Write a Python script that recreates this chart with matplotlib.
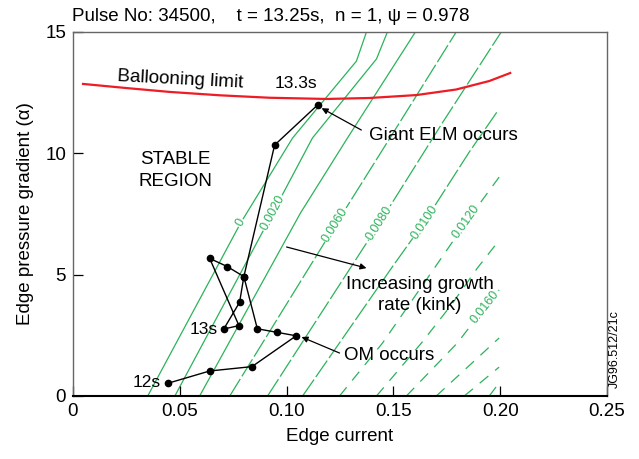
import math

import matplotlib
matplotlib.use("Agg")
import matplotlib.pyplot as plt

plt.rcParams["font.family"] = ["Liberation Sans", "DejaVu Sans"]

GREEN = "#2bb35a"
RED = "#ee1c25"

# Edge trajectory, 12 s -> 13.3 s
EDGE_CURRENT = [0.0443, 0.0640, 0.0838, 0.1045, 0.0957, 0.0863, 0.0800, 0.0723,
                0.0640, 0.0777, 0.0706, 0.0780, 0.0800, 0.0944, 0.1145]
PRESSURE_GRAD = [0.52, 1.03, 1.21, 2.48, 2.62, 2.77, 4.92, 5.33,
                 5.67, 2.90, 2.76, 3.86, 4.92, 10.34, 11.99]

# Ballooning limit
BALLOON_X = [0.0047, 0.0250, 0.0453, 0.0690, 0.0921, 0.1187, 0.1388, 0.1607,
             0.1794, 0.1949, 0.2047]
BALLOON_Y = [12.86, 12.69, 12.53, 12.39, 12.29, 12.24, 12.28, 12.40,
             12.63, 12.98, 13.31]

# Kink growth-rate contours
GROWTH_LEVELS = [0.000, 0.002, 0.004, 0.006, 0.008, 0.010,
                 0.012, 0.014, 0.016, 0.018, 0.020, 0.022]
CONTOUR_X = [
    [0.0350, 0.0785, 0.1028, 0.1327, 0.1374],
    [0.0477, 0.0935, 0.1121, 0.1421, 0.1472],
    [0.0593, 0.1065, 0.1285, 0.1603],
    [0.0734, 0.1229, 0.1528, 0.1794],
    [0.0911, 0.1435, 0.1729, 0.2005],
    [0.1075, 0.1491, 0.1645, 0.1855, 0.1991],
    [0.1248, 0.1449, 0.1692, 0.1841, 0.1995],
    [0.1421, 0.1631, 0.1771, 0.1893, 0.2000],
    [0.1561, 0.1799, 0.1930, 0.1995],
    [0.1701, 0.1995],
    [0.1832, 0.1995],
    [0.1949, 0.1995],
]
CONTOUR_Y = [
    [0.0, 7.13, 10.63, 13.80, 15.0],
    [0.0, 7.54, 10.63, 13.89, 15.0],
    [0.0, 7.54, 10.63, 15.0],
    [0.0, 7.05, 11.25, 15.0],
    [0.0, 7.13, 11.25, 15.0],
    [0.0, 5.27, 7.17, 10.05, 11.78],
    [0.0, 2.18, 5.27, 7.17, 9.02],
    [0.0, 2.18, 3.75, 5.27, 6.47],
    [0.0, 2.18, 3.67, 4.37],
    [0.0, 2.39],
    [0.0, 1.19],
    [0.0, 0.54],
]
# vertex on each contour that carries its label (None = unlabelled)
LABEL_AT = [1, 1, None, 1, 1, 2, 3, None, 2, None, None, None]

fig = plt.figure(figsize=(6.39, 4.59), dpi=100)
ax = fig.add_axes([0.1142, 0.1373, 0.8357, 0.793])
ax.set_xlim(0, 0.25)
ax.set_ylim(0, 15)

for k, (lev, cx, cy) in enumerate(zip(GROWTH_LEVELS, CONTOUR_X, CONTOUR_Y)):
    if k <= 2:
        ls = "-"
    elif k <= 5:
        ls = (0, (16, 2.5))
    else:
        ls = (0, (9, 7))
    ax.plot(cx, cy, color=GREEN, lw=0.9, ls=ls, zorder=1)
    i = LABEL_AT[k]
    if i is None:
        continue
    p0 = ax.transData.transform((cx[i - 1], cy[i - 1]))
    p1 = ax.transData.transform((cx[i + 1], cy[i + 1]))
    ang = math.degrees(math.atan2(p1[1] - p0[1], p1[0] - p0[0]))
    txt = "0" if lev == 0 else f"{lev:.4f}"
    ax.text(cx[i], cy[i], txt, color=GREEN, fontsize=9, rotation=ang,
            rotation_mode="anchor", ha="center", va="center", zorder=2,
            bbox=dict(facecolor="white", edgecolor="none", pad=0.6))

ax.plot(BALLOON_X, BALLOON_Y, color=RED, lw=1.6, zorder=3)
ax.plot(EDGE_CURRENT, PRESSURE_GRAD, color="black", lw=1.0, marker="o",
        ms=4.5, zorder=4)

# annotations
ax.text(0.0205, 12.55, "Ballooning limit", fontsize=13.5, rotation=-3,
        ha="left", va="bottom")
ax.text(EDGE_CURRENT[-1], 12.55, "13.3s", fontsize=12.5, ha="right", va="bottom")
ax.text(EDGE_CURRENT[10] - 0.003, PRESSURE_GRAD[10], "13s", fontsize=12.5,
        ha="right", va="center")
ax.text(EDGE_CURRENT[0] - 0.003, PRESSURE_GRAD[0] + 0.05, "12s", fontsize=12.5,
        ha="right", va="center")
ax.text(0.048, 9.3, "STABLE\nREGION", fontsize=13.5, ha="center", va="center",
        linespacing=1.35)

arrow = dict(arrowstyle="-|>", color="black", lw=0.9, mutation_scale=9,
             shrinkA=0, shrinkB=0)
ax.annotate("", xy=(0.1164, 11.86), xytext=(0.1350, 10.96), arrowprops=arrow)
ax.text(0.1385, 10.75, "Giant ELM occurs", fontsize=13.5, ha="left", va="center")
ax.annotate("", xy=(0.1374, 5.27), xytext=(0.1000, 6.14), arrowprops=arrow)
ax.text(0.1625, 4.15, "Increasing growth\nrate (kink)", fontsize=13.5,
        ha="center", va="center", linespacing=1.3)
ax.annotate("", xy=(0.1070, 2.43), xytext=(0.1248, 1.77), arrowprops=arrow)
ax.text(0.1270, 1.65, "OM occurs", fontsize=13.5, ha="left", va="center")

ax.set_xticks([0, 0.05, 0.10, 0.15, 0.20, 0.25])
ax.set_xticklabels(["0", "0.05", "0.10", "0.15", "0.20", "0.25"])
ax.set_yticks([0, 5, 10, 15])
ax.tick_params(direction="in", length=7, width=0.9, labelsize=13.5, pad=5,
               top=False, right=False)
for s in ["top", "right", "left"]:
    ax.spines[s].set_color("#666666")
    ax.spines[s].set_linewidth(1.0)
ax.spines["bottom"].set_linewidth(1.5)

ax.set_xlabel("Edge current", fontsize=13.5, labelpad=6)
ax.set_ylabel("Edge pressure gradient (\u03b1)", fontsize=13.5, labelpad=8)
fig.text(0.113, 0.945, "Pulse No: 34500,    t = 13.25s,  n = 1, \u03c8 = 0.978",
         fontsize=13.5, ha="left", va="bottom")
fig.text(0.962, 0.155, "JG96.512/21c", fontsize=9, rotation=90,
         ha="center", va="bottom")

fig.savefig("out.png", dpi=100, facecolor="white")
